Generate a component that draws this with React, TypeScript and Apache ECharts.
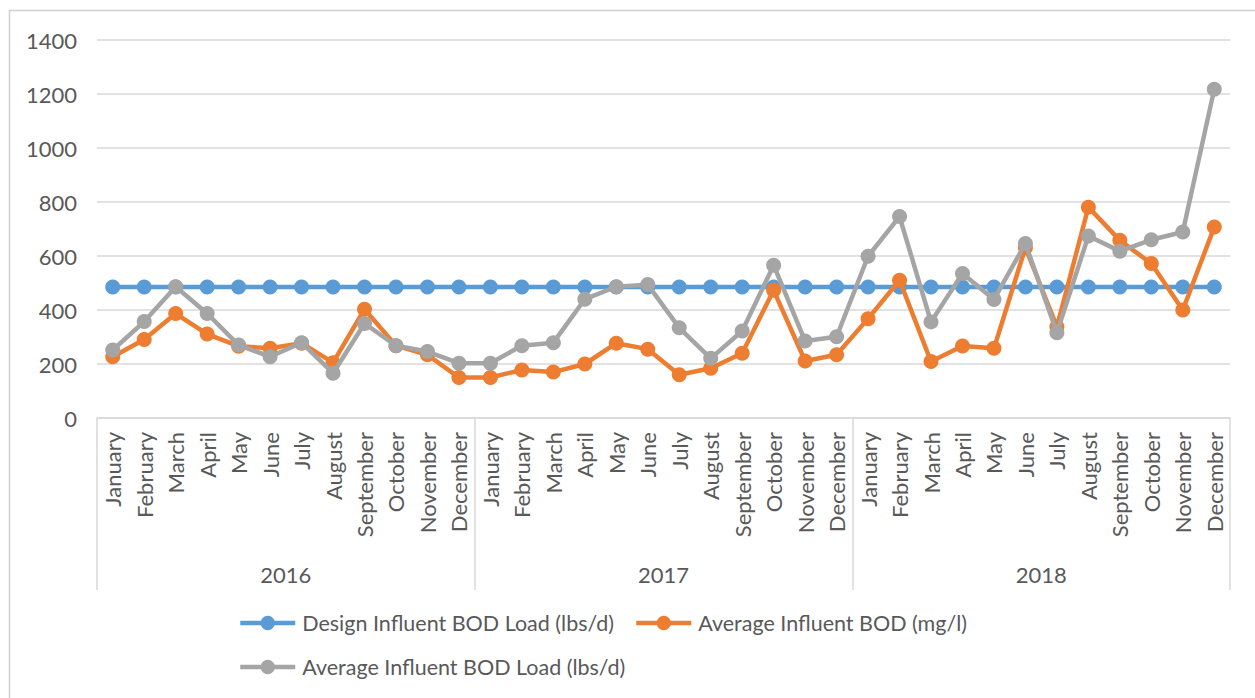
import React, { useEffect, useRef } from "react";
import * as echarts from "echarts";

// Category labels
const years = ["2016", "2017", "2018"];
const months = [
  "January", "February", "March", "April", "May", "June",
  "July", "August", "September", "October", "November", "December",
];

// Series values, one per month from January 2016 to December 2018
const designLoad = [
  485, 485, 485, 485, 485, 485, 485, 485, 485, 485, 485, 485,
  485, 485, 485, 485, 485, 485, 485, 485, 485, 485, 485, 485,
  485, 485, 485, 485, 485, 485, 485, 485, 485, 485, 485, 485,
];
const avgBod = [
  227, 291, 387, 311, 266, 258, 277, 205, 403, 268, 234, 150,
  150, 178, 170, 200, 277, 255, 160, 184, 240, 473, 211, 234,
  368, 510, 209, 267, 258, 631, 338, 781, 658, 572, 400, 707,
];
const avgLoad = [
  252, 357, 486, 387, 270, 227, 279, 166, 350, 268, 246, 203,
  203, 268, 279, 440, 486, 494, 334, 221, 322, 566, 285, 301,
  599, 746, 356, 535, 439, 646, 316, 674, 618, 660, 689, 1218,
];

const seriesNames = [
  "Design Influent BOD Load (lbs/d)",
  "Average Influent BOD (mg/l)",
  "Average Influent BOD Load (lbs/d)",
];
const colors = ["#5B9BD5", "#ED7D31", "#A5A5A5"];

const FONT = "Lato, 'Open Sans', sans-serif";
const TEXT = "#595959";
const LINE = "#d9d9d9";

export default function App() {
  const ref = useRef<HTMLDivElement>(null);

  useEffect(() => {
    if (!ref.current) return;
    const chart = echarts.init(ref.current, undefined, { renderer: "svg" });

    // unique keys per month; the year is stripped in the label formatter
    const monthKeys = years.flatMap((y) => months.map((m) => `${y}|${m}`));

    const makeSeries = (i: number, data: number[]) => ({
      name: seriesNames[i],
      type: "line",
      data,
      xAxisIndex: 0,
      symbol: "circle",
      symbolSize: 15,
      lineStyle: { width: 4.5, color: colors[i] },
      itemStyle: { color: colors[i] },
      z: 2 + i,
    });

    const legendBase = {
      left: 238,
      padding: 0,
      itemWidth: 55,
      itemHeight: 18,
      itemGap: 20,
      lineStyle: { width: 4.5 },
      textStyle: { fontSize: 21.5, color: TEXT, fontFamily: FONT, padding: [0, 0, 0, 2] },
    };

    chart.setOption({
      animation: false,
      backgroundColor: "#ffffff",
      textStyle: { fontFamily: FONT },
      grid: { left: 97, right: 25, top: 40, bottom: 280, containLabel: false },
      xAxis: [
        {
          type: "category",
          data: monthKeys,
          boundaryGap: true,
          axisLine: { show: true, lineStyle: { color: LINE, width: 1.5 } },
          axisTick: { show: false },
          axisLabel: {
            interval: 0,
            rotate: 90,
            margin: 14,
            fontSize: 22,
            color: TEXT,
            fontFamily: FONT,
            formatter: (v: string) => v.split("|")[1],
          },
          splitLine: { show: false },
        },
        {
          type: "category",
          data: years,
          position: "bottom",
          boundaryGap: true,
          axisLine: { show: false },
          axisTick: {
            show: true,
            interval: 0,
            length: 172,
            lineStyle: { color: LINE, width: 1.5 },
          },
          axisLabel: {
            interval: 0,
            margin: 145,
            fontSize: 22,
            color: TEXT,
            fontFamily: FONT,
          },
          splitLine: { show: false },
        },
      ],
      yAxis: {
        type: "value",
        min: 0,
        max: 1400,
        interval: 200,
        axisLine: { show: false },
        axisTick: { show: false },
        axisLabel: {
          margin: 20,
          fontSize: 22,
          color: TEXT,
          fontFamily: FONT,
          formatter: (v: number) => String(v),
        },
        splitLine: { lineStyle: { color: LINE, width: 1.5 } },
      },
      legend: [
        { ...legendBase, data: [seriesNames[0], seriesNames[1]], top: 612 },
        { ...legendBase, data: [seriesNames[2]], top: 656 },
      ],
      graphic: [
        {
          type: "rect",
          shape: { x: 9.5, y: 10.5, width: 1300, height: 800 },
          style: { fill: "none", stroke: "#d0d0d0", lineWidth: 1.5 },
          silent: true,
          z: -1,
        },
      ],
      series: [
        makeSeries(0, designLoad),
        makeSeries(1, avgBod),
        makeSeries(2, avgLoad),
      ],
    });

    return () => chart.dispose();
  }, []);

  return (
    <div
      ref={ref}
      style={{ position: "absolute", left: 0, top: 0, width: 1255, height: 698 }}
    />
  );
}
